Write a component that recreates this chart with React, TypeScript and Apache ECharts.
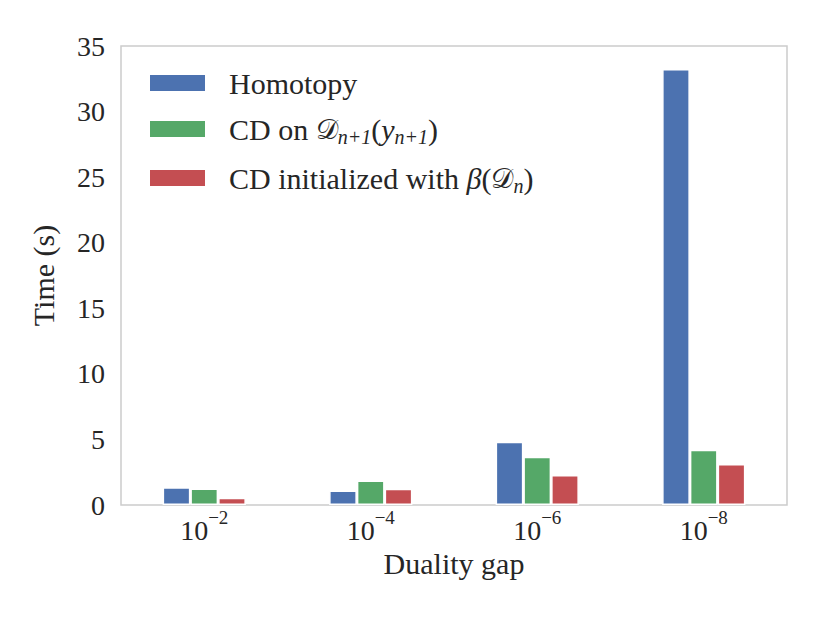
import React, { useEffect, useRef } from "react";
import * as echarts from "echarts";

const categories = ["-2", "-4", "-6", "-8"];
const seriesNames = ["Homotopy", "CD on D_{n+1}(y_{n+1})", "CD initialized with β(D_n)"];
const homotopy = [1.36, 1.1, 4.82, 33.24];
const cdOn = [1.26, 1.87, 3.68, 4.21];
const cdInit = [0.55, 1.24, 2.28, 3.12];
const colors = ["#4C72B0", "#55A868", "#C44E52"];

const FONT = "'Liberation Serif', 'DejaVu Serif', serif";
const TXT = "#262626";

const legendRich: Record<string, string> = {
  [seriesNames[0]]: "{r|Homotopy}",
  [seriesNames[1]]: "{r|CD on }{cal|𝒟}{sub|n+1}{r|(}{it|y}{sub|n+1}{r|)}",
  [seriesNames[2]]: "{r|CD initialized with }{it|β}{r|(}{cal|𝒟}{sub|n}{r|)}",
};

export default function App() {
  const ref = useRef<HTMLDivElement>(null);
  useEffect(() => {
    if (!ref.current) return;
    const chart = echarts.init(ref.current, null, { renderer: "svg" });
    const data = [homotopy, cdOn, cdInit];
    chart.setOption({
      animation: false,
      textStyle: { fontFamily: FONT },
      grid: {
        left: 113,
        right: 35,
        top: 38,
        bottom: 110,
        show: true,
        borderColor: "#cccccc",
        borderWidth: 1.5,
        backgroundColor: "#ffffff",
      },
      legend: {
        orient: "vertical",
        left: 135,
        top: 55,
        itemWidth: 57,
        itemHeight: 18,
        itemGap: 16,
        icon: "rect",
        data: seriesNames,
        formatter: (name: string) => legendRich[name] || name,
        textStyle: {
          fontFamily: FONT,
          fontSize: 30,
          color: TXT,
          padding: [0, 0, 0, 18],
          rich: {
            r: { fontFamily: FONT, fontSize: 30, color: TXT, lineHeight: 30 },
            it: { fontFamily: FONT, fontStyle: "italic", fontSize: 30, color: TXT, lineHeight: 30 },
            cal: { fontFamily: "'DejaVu Serif', serif", fontSize: 28, color: TXT, lineHeight: 30 },
            sub: {
              fontFamily: FONT,
              fontStyle: "italic",
              fontSize: 20,
              color: TXT,
              verticalAlign: "bottom",
              lineHeight: 14,
              height: 14,
            },
          },
        },
      },
      xAxis: {
        type: "category",
        data: categories,
        name: "Duality gap",
        nameLocation: "middle",
        nameGap: 30,
        nameTextStyle: { fontFamily: FONT, fontSize: 30, color: TXT },
        axisLine: { show: false },
        axisTick: { show: false },
        splitLine: { show: false },
        axisLabel: {
          margin: 10,
          formatter: (v: string) => `{b|10}{sup|${v.replace("-", "−")}}`,
          rich: {
            b: { fontFamily: FONT, fontSize: 28, color: TXT, lineHeight: 30 },
            sup: {
              fontFamily: FONT,
              fontSize: 19,
              color: TXT,
              verticalAlign: "top",
              lineHeight: 4,
              height: 4,
            },
          },
        },
      },
      yAxis: {
        type: "value",
        min: 0,
        max: 35,
        interval: 5,
        name: "Time (s)",
        nameLocation: "middle",
        nameGap: 63,
        nameTextStyle: { fontFamily: FONT, fontSize: 30, color: TXT },
        axisLine: { show: false },
        axisTick: { show: false },
        splitLine: { show: false },
        axisLabel: { margin: 16, fontFamily: FONT, fontSize: 28, color: TXT },
      },
      series: seriesNames.map((n, i) => ({
        name: n,
        type: "bar",
        data: data[i],
        barWidth: "16.67%",
        barGap: "0%",
        itemStyle: { color: colors[i], borderColor: "#ffffff", borderWidth: 1.5 },
      })),
    });
    return () => chart.dispose();
  }, []);
  return <div ref={ref} style={{ width: 814, height: 607 }} />;
}
